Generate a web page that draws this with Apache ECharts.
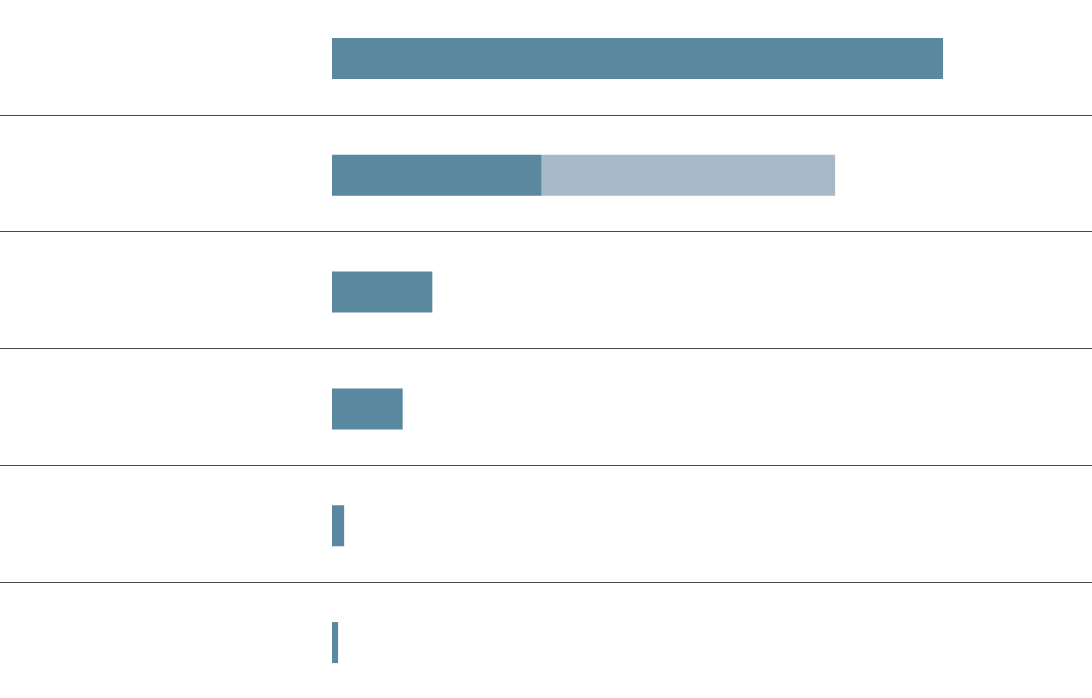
<!DOCTYPE html>
<html>
<head>
<meta charset="utf-8">
<script src="https://cdn.jsdelivr.net/npm/echarts@6/dist/echarts.min.js"></script>
<style>
html,body{margin:0;padding:0;background:#fff;}
#chart{width:1092px;height:698px;}
</style>
</head>
<body>
<div id="chart"></div>
<script>
const categories = ['A', 'B', 'C', 'D', 'E', 'F'];
const primaryValues = [804, 276, 132, 93, 16, 8];
const secondaryValues = [0, 386, 0, 0, 0, 0];
const xMax = 1000;

const chart = echarts.init(document.getElementById('chart'), null, {renderer: 'canvas'});
chart.setOption({
  animation: false,
  backgroundColor: '#ffffff',
  grid: [
    {left: 0, right: 0, top: -2, height: 701, containLabel: false, outerBoundsMode: 'none'},
    {left: 332, right: 0, top: 0, height: 701, containLabel: false, outerBoundsMode: 'none'}
  ],
  xAxis: [
    {gridIndex: 0, type: 'value', min: 0, max: 1, show: false},
    {gridIndex: 1, type: 'value', min: 0, max: xMax, show: false}
  ],
  yAxis: [
    {
      gridIndex: 0, type: 'category', data: categories, inverse: true,
      axisLine: {show: false}, axisTick: {show: false}, axisLabel: {show: false},
      splitLine: {show: true, showMinLine: false, showMaxLine: false, lineStyle: {color: '#4a4a4a', width: 1}}
    },
    {
      gridIndex: 1, type: 'category', data: categories, inverse: true,
      axisLine: {show: false}, axisTick: {show: false}, axisLabel: {show: false},
      splitLine: {show: false}
    }
  ],
  series: [
    {
      type: 'bar', xAxisIndex: 1, yAxisIndex: 1, stack: 'total',
      data: primaryValues, barWidth: 41,
      itemStyle: {color: '#5a889f'}, silent: true
    },
    {
      type: 'bar', xAxisIndex: 1, yAxisIndex: 1, stack: 'total',
      data: secondaryValues, barWidth: 41,
      itemStyle: {color: '#a7b8c6'}, silent: true
    }
  ]
});
</script>
</body>
</html>
